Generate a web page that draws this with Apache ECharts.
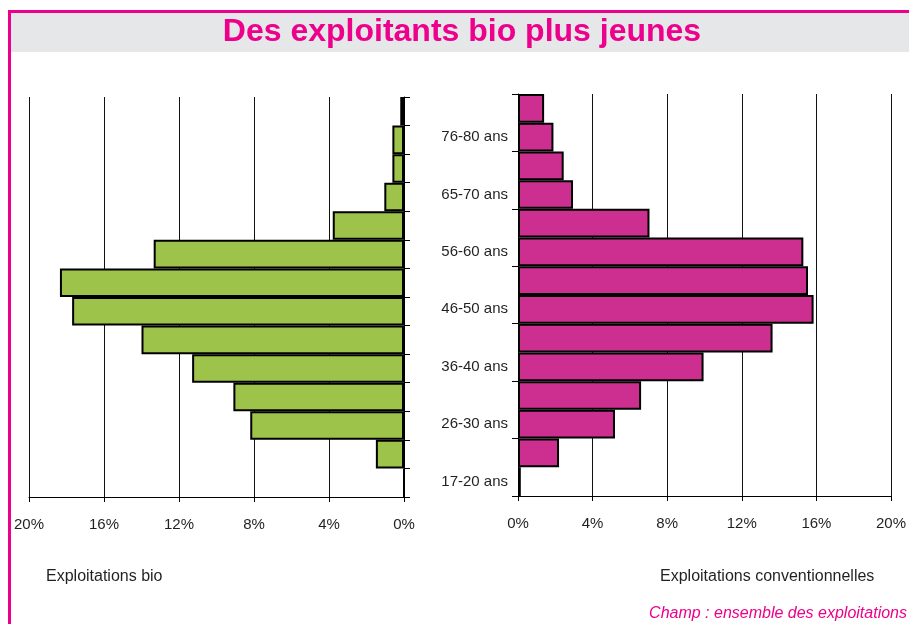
<!DOCTYPE html>
<html>
<head>
<meta charset="utf-8">
<script src="https://cdn.jsdelivr.net/npm/echarts@6/dist/echarts.min.js"></script>
<style>
html,body{margin:0;padding:0;background:#fff;}
#chart{width:909px;height:624px;}
</style>
</head>
<body>
<div id="chart"></div>
<script>
const categories = ["17-20 ans","21-25 ans","26-30 ans","31-35 ans","36-40 ans","41-45 ans","46-50 ans","51-55 ans","56-60 ans","61-64 ans","65-70 ans","71-75 ans","76-80 ans","81 ans et +"];
const bioValues = [0, 1.5, 8.2, 9.1, 11.3, 14.0, 17.7, 18.35, 13.35, 3.8, 1.05, 0.62, 0.62, 0.2];
const convValues = [0.15, 2.2, 5.2, 6.6, 9.95, 13.65, 15.85, 15.55, 15.3, 7.05, 2.95, 2.45, 1.9, 1.4];
const xTicks = {min: 0, max: 20, interval: 4};
const titleText = "Des exploitants bio plus jeunes";
const leftCaption = "Exploitations bio";
const rightCaption = "Exploitations conventionnelles";
const sourceText = "Champ : ensemble des exploitations";

const pink = '#ec008c';
const font = 'Liberation Sans, Arial, sans-serif';
const chart = echarts.init(document.getElementById('chart'), null, {renderer: 'canvas'});

const xAxisBase = {
  type: 'value', min: xTicks.min, max: xTicks.max, interval: xTicks.interval,
  axisLine: {show: true, lineStyle: {color: '#000', width: 1}},
  axisTick: {show: true, length: 5, lineStyle: {color: '#000'}},
  splitLine: {show: true, lineStyle: {color: '#111', width: 1}},
  axisLabel: {formatter: '{value}%', fontSize: 15, color: '#231f20', fontFamily: font, margin: 20}
};

chart.setOption({
  animation: false,
  grid: [
    {left: 29, width: 375, top: 97, height: 400},
    {left: 518, width: 376, top: 94, height: 402}
  ],
  xAxis: [
    Object.assign({}, xAxisBase, {gridIndex: 0, inverse: true}),
    Object.assign({}, xAxisBase, {gridIndex: 1})
  ],
  yAxis: [
    {type: 'category', gridIndex: 0, data: categories, position: 'right',
     axisLine: {show: true, lineStyle: {color: '#000'}},
     axisTick: {show: true, length: 6, lineStyle: {color: '#000'}},
     axisLabel: {show: false}, splitLine: {show: false}},
    {type: 'category', gridIndex: 1, data: categories, position: 'left',
     axisLine: {show: true, lineStyle: {color: '#000'}},
     axisTick: {show: true, length: 6, lineStyle: {color: '#000'}},
     axisLabel: {show: true, interval: 1, fontSize: 15, color: '#231f20', fontFamily: font, margin: 10},
     splitLine: {show: false}}
  ],
  series: [
    {type: 'bar', xAxisIndex: 0, yAxisIndex: 0, data: bioValues, barCategoryGap: '0%',
     itemStyle: {color: '#9dc34a', borderColor: '#000', borderWidth: 2}},
    {type: 'bar', xAxisIndex: 1, yAxisIndex: 1, data: convValues, barCategoryGap: '0%',
     itemStyle: {color: '#cc2f8f', borderColor: '#000', borderWidth: 2}}
  ],
  graphic: [
    {type: 'rect', z: -1, shape: {x: 11, y: 13, width: 898, height: 39}, style: {fill: '#e6e7e8'}},
    {type: 'rect', shape: {x: 8, y: 10, width: 901, height: 3}, style: {fill: pink}},
    {type: 'rect', shape: {x: 8, y: 10, width: 3, height: 614}, style: {fill: pink}},
    {type: 'text', x: 462, y: 32, style: {text: titleText, fill: pink, font: 'bold 32px ' + font, textAlign: 'center', textVerticalAlign: 'middle'}},
    {type: 'text', x: 46, y: 577, style: {text: leftCaption, fill: '#231f20', font: '16px ' + font, textAlign: 'left', textVerticalAlign: 'middle'}},
    {type: 'text', x: 660, y: 577, style: {text: rightCaption, fill: '#231f20', font: '16px ' + font, textAlign: 'left', textVerticalAlign: 'middle'}},
    {type: 'text', x: 907, y: 614, style: {text: sourceText, fill: pink, font: 'italic 16px ' + font, textAlign: 'right', textVerticalAlign: 'middle'}}
  ]
});
</script>
</body>
</html>
